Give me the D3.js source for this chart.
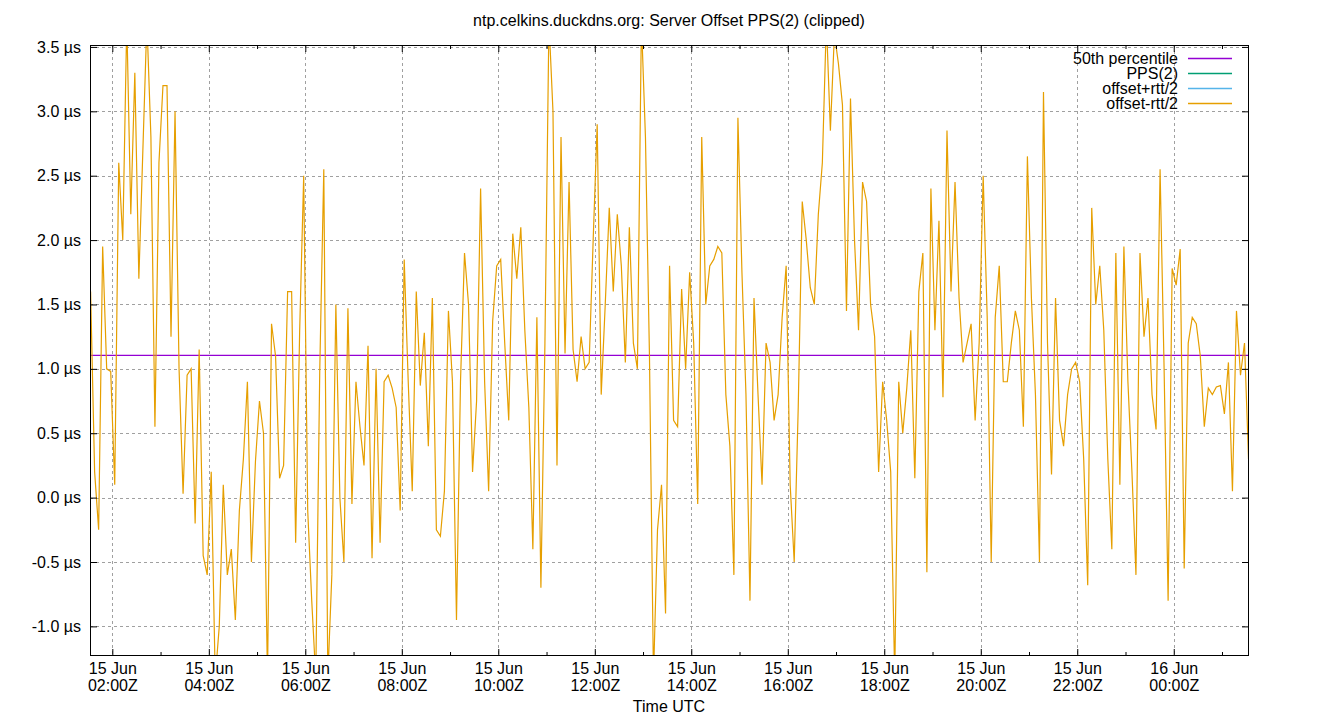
<!DOCTYPE html>
<html>
<head>
<meta charset="utf-8">
<script src="https://cdn.jsdelivr.net/npm/d3@7"></script>
<style>
  body { margin: 0; background: #fff; }
  text { font-family: "Liberation Sans", Arial, sans-serif; }
</style>
</head>
<body>
<svg id="chart" width="1340" height="720"></svg>
<script>
const chartTitle = "ntp.celkins.duckdns.org: Server Offset PPS(2) (clipped)";
const xAxisTitle = "Time UTC";
const seriesNames = ["50th percentile", "PPS(2)", "offset+rtt/2", "offset-rtt/2"];
const seriesColors = ["#9400d3", "#009e73", "#56b4e9", "#e69f00"];

// one sample every 5 minutes, starting 15 Jun 01:33Z (µs)
const sampleStart = Date.UTC(2024, 5, 15, 1, 33);
const sampleStepMinutes = 5;
const offsetValues = [
  1.6, 0.2, -0.25, 1.95, 1.0, 0.98, 0.1, 2.6, 2.0, 3.7,
  2.2, 3.3, 1.7, 2.7, 3.7, 2.8, 0.55, 2.6, 3.2, 3.2,
  1.25, 3.0, 1.0, 0.03, 0.95, 1.0, -0.2, 1.15, -0.45, -0.6,
  0.2, -1.4, -1.0, 0.1, -0.6, -0.4, -0.95, -0.1, 0.3, 0.9,
  -0.5, 0.28, 0.75, 0.5, -1.4, 1.35, 1.1, 0.15, 0.25, 1.6,
  1.6, -0.35, 1.3, 2.5, -0.1, -0.8, -1.4, 1.0, 2.55, -1.4,
  -0.6, 1.5, 0.0, -0.5, 1.47, -0.05, 0.9, 0.55, 0.25, 1.18,
  -0.47, 1.0, -0.35, 0.9, 0.95, 0.85, 0.7, -0.1, 1.85, 0.9,
  0.05, 1.6, 0.87, 1.28, 0.4, 1.55, -0.25, -0.3, 0.05, 1.45,
  0.9, -0.95, 0.9, 1.9, 1.5, 0.2, 0.75, 2.4, 0.9, 0.05,
  1.37, 1.8, 1.85, 1.2, 0.6, 2.05, 1.7, 2.1, 1.3, 0.7,
  -0.4, 1.4, -0.7, 1.2, 3.7, 3.0, 0.25, 2.8, 1.12, 2.45,
  1.15, 0.9, 1.25, 1.0, 1.05, 2.0, 2.9, 0.8, 1.5, 2.25,
  1.6, 2.2, 1.8, 1.05, 2.1, 1.2, 1.0, 3.7, 2.8, 1.1,
  -1.4, -0.25, 0.1, -0.9, 1.8, 0.6, 0.55, 1.62, 1.0, 1.75,
  1.2, -0.05, 2.8, 1.5, 1.8, 1.85, 1.95, 1.9, 0.8, 0.4,
  -0.6, 2.95, 1.75, 0.8, -0.8, 1.55, 0.8, 0.1, 1.2, 1.05,
  0.6, 0.8, 1.4, 1.8, 0.1, -0.5, 0.7, 2.3, 2.0, 1.63,
  1.5, 2.2, 2.6, 3.7, 2.85, 3.6, 3.37, 3.05, 1.45, 3.1,
  2.0, 1.3, 2.45, 2.3, 1.5, 1.25, 0.2, 0.9, 0.6, 0.2,
  -1.4, 0.9, 0.5, 0.85, 1.3, 0.15, 1.6, 1.9, -0.58, 2.4,
  1.3, 2.15, 0.78, 2.85, 1.6, 2.45, 1.55, 1.05, 1.2, 1.35,
  0.6, 1.2, 2.5, 1.4, -0.5, 1.4, 1.8, 0.9, 0.9, 1.2,
  1.45, 1.3, 0.55, 2.65, 1.55, 0.8, -0.5, 3.15, 1.2, 0.18,
  1.55, 0.6, 0.4, 0.8, 1.0, 1.05, 0.9, 0.3, -0.68, 2.25,
  1.5, 1.8, 1.3, 0.3, -0.4, 1.9, 0.1, 1.95, 0.9, 0.2,
  -0.6, 1.9, 1.25, 1.55, 0.8, 0.53, 2.55, 1.0, -0.8, 1.78,
  1.65, 1.93, -0.55, 1.2, 1.4, 1.35, 1.1, 0.55, 0.85, 0.8,
  0.86, 0.87, 0.65, 1.05, 0.05, 1.45, 0.95, 1.2, 0.3
];
const percentile50 = 1.105;

const yTicks = [-1.0, -0.5, 0.0, 0.5, 1.0, 1.5, 2.0, 2.5, 3.0, 3.5];
const yDomain = [-1.23, 3.515];
const xDomain = [Date.UTC(2024, 5, 15, 1, 32, 15), Date.UTC(2024, 5, 16, 1, 33, 35)];

let plot = { left: 90, right: 1249, top: 45, bottom: 656 };

let svg = d3.select("#chart");

let xScale = d3.scaleUtc().domain(xDomain).range([plot.left, plot.right]);
let yScale = d3.scaleLinear().domain(yDomain).range([plot.bottom, plot.top]);

let majorTicks = d3.utcHour.every(2).range(xDomain[0], xDomain[1]);
let minorTicks = d3.utcHour.every(1).range(xDomain[0], xDomain[1])
  .filter(d => d.getUTCHours() % 2 === 1);

let points = offsetValues.map((v, i) => [new Date(sampleStart + i * sampleStepMinutes * 60000), v]);

function crisp(v) { return Math.round(v) + 0.5; }

// grid
let grid = svg.append("g").attr("stroke", "#a0a0a0").attr("stroke-width", 1)
  .attr("stroke-dasharray", "3,3");
grid.selectAll(".hgrid").data(yTicks).enter().append("line")
  .attr("x1", plot.left).attr("x2", plot.right)
  .attr("y1", d => crisp(yScale(d))).attr("y2", d => crisp(yScale(d)));
grid.selectAll(".vgrid").data(majorTicks).enter().append("line")
  .attr("x1", d => crisp(xScale(d))).attr("x2", d => crisp(xScale(d)))
  .attr("y1", plot.top).attr("y2", plot.bottom);

svg.append("clipPath").attr("id", "plotClip").append("rect")
  .attr("x", plot.left).attr("y", plot.top)
  .attr("width", plot.right - plot.left).attr("height", plot.bottom - plot.top);

let plotArea = svg.append("g").attr("clip-path", "url(#plotClip)");

// 50th percentile
plotArea.append("line")
  .attr("x1", plot.left).attr("x2", plot.right)
  .attr("y1", yScale(percentile50)).attr("y2", yScale(percentile50))
  .attr("stroke", seriesColors[0]).attr("stroke-width", 1.3);

let line = d3.line()
  .x(d => xScale(d[0]))
  .y(d => yScale(d[1]));

// PPS(2), offset+rtt/2 and offset-rtt/2 overlap (rtt is ~0); only the top one shows
plotArea.append("path")
  .attr("fill", "none")
  .attr("stroke", seriesColors[3])
  .attr("stroke-width", 1.2)
  .attr("stroke-linejoin", "miter")
  .attr("d", line(points));

// axes with inward ticks
let fmt = d3.utcFormat("%d %b|%H:%MZ");

let xAxis = svg.append("g")
  .attr("transform", "translate(0," + plot.bottom + ")")
  .call(d3.axisBottom(xScale).tickValues(majorTicks).tickSize(-7).tickPadding(6).tickFormat(fmt));
xAxis.selectAll(".tick text").each(function(d) {
  let parts = fmt(d).split("|");
  let t = d3.select(this).text("").attr("dy", null).attr("y", 18);
  t.append("tspan").attr("x", 0).text(parts[0]);
  t.append("tspan").attr("x", 0).attr("dy", 17).text(parts[1]);
});
svg.append("g")
  .attr("transform", "translate(0," + plot.bottom + ")")
  .call(d3.axisBottom(xScale).tickValues(minorTicks).tickSize(-4).tickFormat(""));
svg.append("g")
  .attr("transform", "translate(0," + plot.top + ")")
  .call(d3.axisTop(xScale).tickValues(majorTicks).tickSize(-7).tickFormat(""));
svg.append("g")
  .attr("transform", "translate(0," + plot.top + ")")
  .call(d3.axisTop(xScale).tickValues(minorTicks).tickSize(-4).tickFormat(""));

svg.append("g")
  .attr("transform", "translate(" + plot.left + ",0)")
  .call(d3.axisLeft(yScale).tickValues(yTicks).tickSize(-7).tickPadding(9)
    .tickFormat(d => d.toFixed(1) + " µs"));
svg.append("g")
  .attr("transform", "translate(" + plot.right + ",0)")
  .call(d3.axisRight(yScale).tickValues(yTicks).tickSize(-7).tickFormat(""));

svg.selectAll(".domain").remove();
svg.selectAll(".tick line").attr("stroke", "#000");
svg.selectAll(".tick text").attr("font-size", 16).attr("fill", "#000")
  .attr("font-family", "'Liberation Sans', Arial, sans-serif");

svg.append("rect")
  .attr("x", plot.left + 0.5).attr("y", plot.top + 0.5)
  .attr("width", plot.right - plot.left - 1).attr("height", plot.bottom - plot.top - 1)
  .attr("fill", "none").attr("stroke", "#000").attr("stroke-width", 1);

// titles
svg.append("text").attr("x", 669).attr("y", 26).attr("text-anchor", "middle")
  .attr("font-size", 16).text(chartTitle);
svg.append("text").attr("x", 669).attr("y", 712).attr("text-anchor", "middle")
  .attr("font-size", 16).text(xAxisTitle);

// legend
let legend = svg.append("g");
seriesNames.forEach((name, i) => {
  let y = 58.5 + i * 15;
  legend.append("text").attr("x", 1178).attr("y", y + 5.5).attr("text-anchor", "end")
    .attr("font-size", 16).text(name);
  legend.append("line").attr("x1", 1188).attr("x2", 1232)
    .attr("y1", y).attr("y2", y)
    .attr("stroke", seriesColors[i]).attr("stroke-width", 1.3);
});
</script>
</body>
</html>
